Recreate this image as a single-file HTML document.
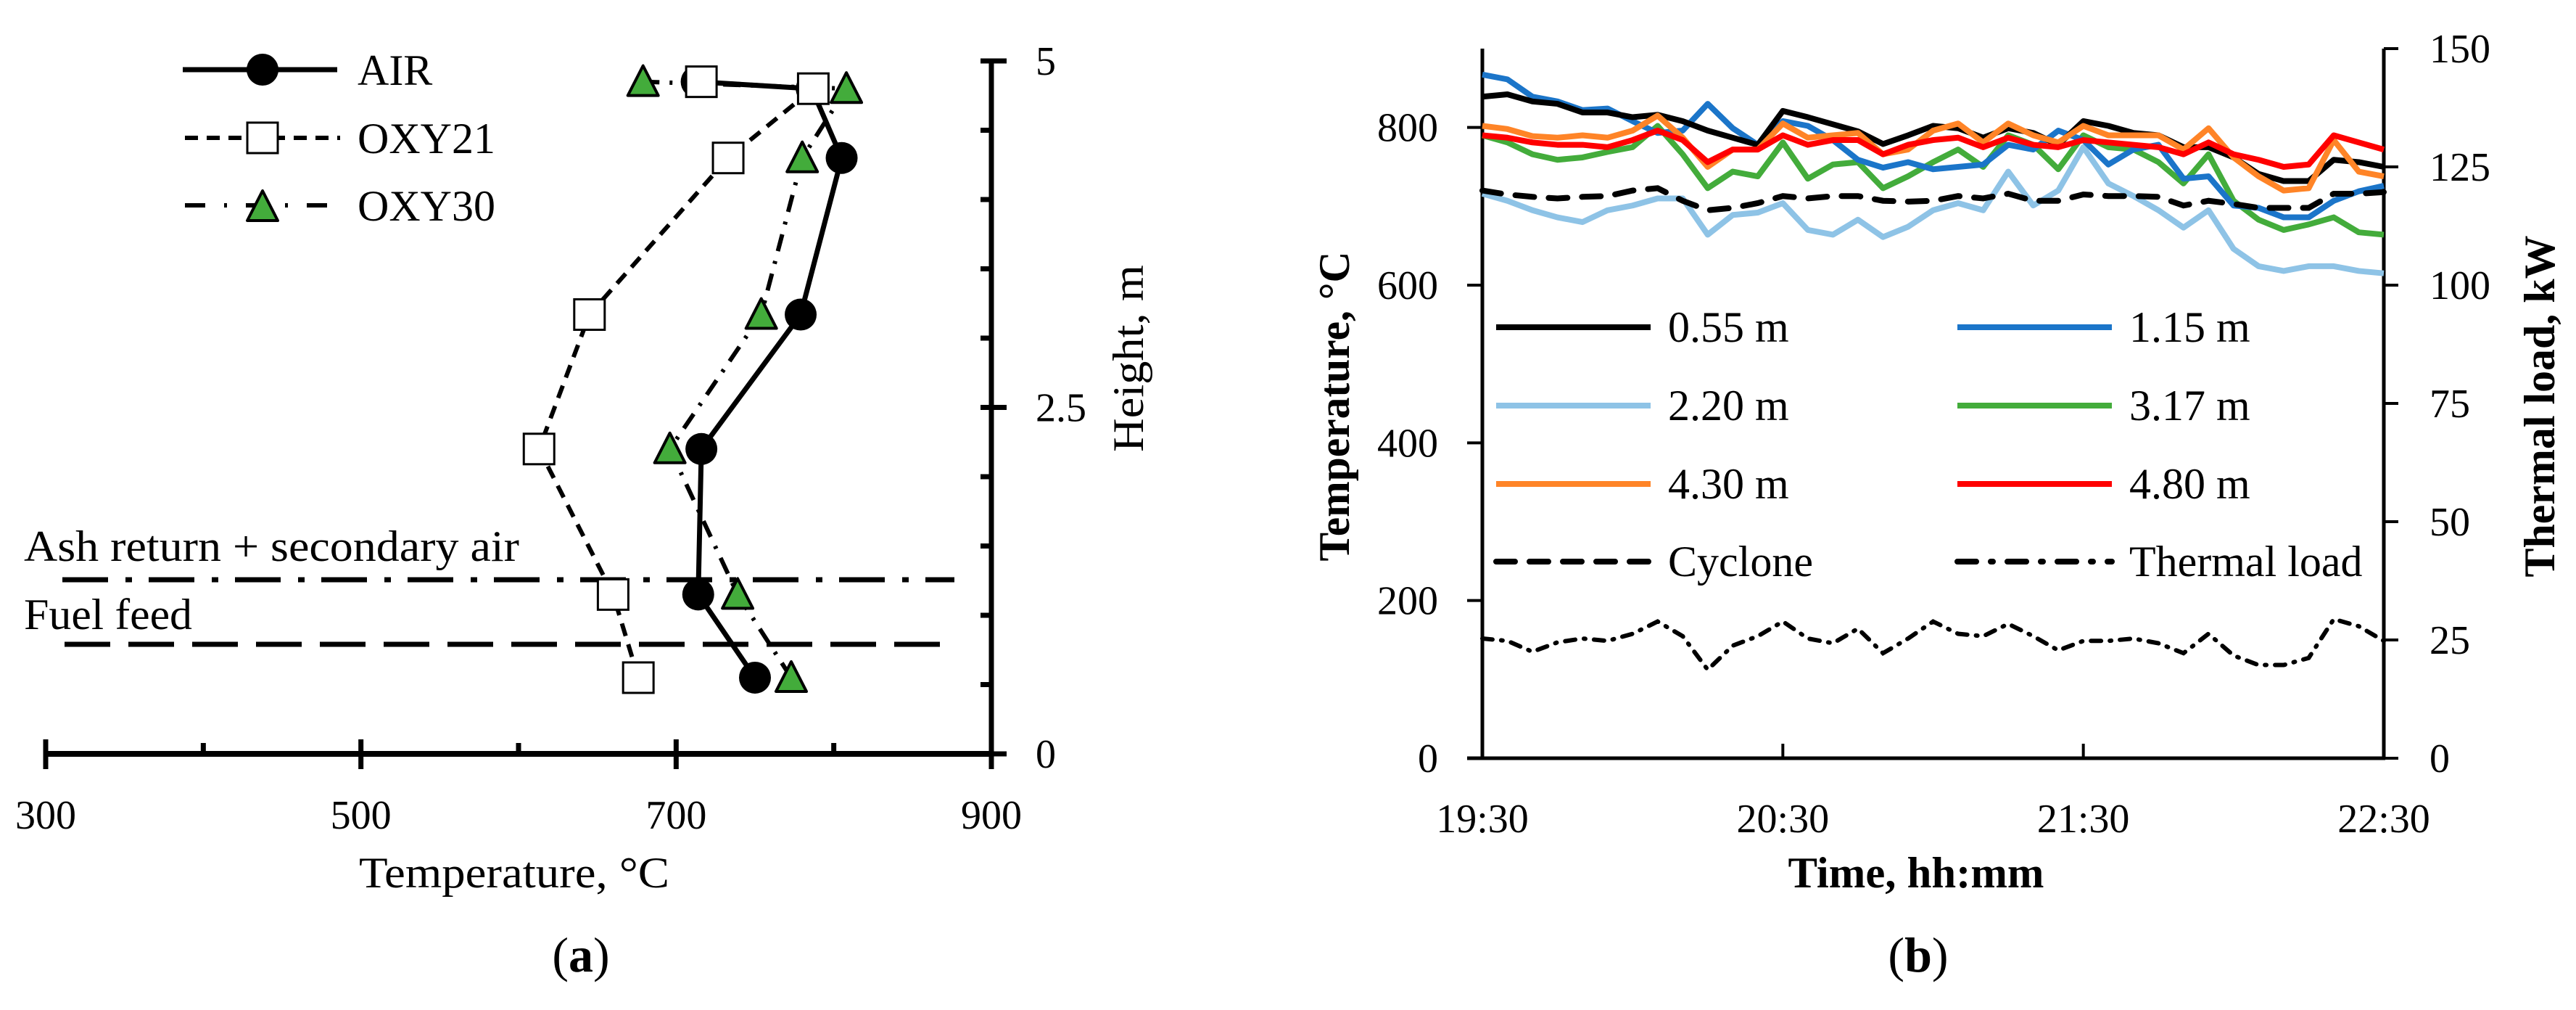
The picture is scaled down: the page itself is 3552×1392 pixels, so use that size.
<!DOCTYPE html>
<html><head><meta charset="utf-8">
<style>
html,body{margin:0;padding:0;background:#fff;}
svg{display:block;}
text{font-family:"Liberation Serif",serif;fill:#000;}
</style></head>
<body>
<svg id="fig" xmlns="http://www.w3.org/2000/svg" width="3552" height="1392" viewBox="0 0 3552 1392">
<rect width="3552" height="1392" fill="#fff"/>
<g id="pa"></g>
<g id="pb"></g>
</svg>
<script>
// ---------- Panel (a) data ----------
const aHeights = [0.55, 1.15, 2.20, 3.17, 4.30, 4.80, 4.85];
const airTemps = [750, 714, 716, 779, 805, 786, 713];
const oxy21Temps = [676, 660, 613, 645, 733, 787, 716];
const oxy30Temps = [773, 739, 696, 754, 780, 808, 679];
const aXTicks = [300, 500, 700, 900];
const aYTicks = ["0", "2.5", "5"];

// ---------- Panel (b) data ----------
const bMinutes = [0,5,10,15,20,25,30,35,40,45,50,55,60,65,70,75,80,85,90,95,100,105,110,115,120,125,130,135,140,145,150,155,160,165,170,175,180];
const t055 = [839,842,833,830,819,819,813,816,808,796,787,778,821,813,804,795,779,790,802,799,787,799,793,778,808,802,793,790,775,775,762,741,732,732,759,756,750];
const t115 = [867,861,839,833,822,824,808,793,796,830,799,778,808,802,784,759,749,756,747,750,753,778,772,796,784,753,772,778,735,738,701,698,686,686,707,719,726];
const t220 = [716,707,695,686,680,695,701,710,710,664,689,692,704,670,664,683,661,674,695,704,695,744,701,720,775,729,713,695,673,695,646,624,618,624,624,618,615];
const t317 = [790,781,766,759,762,769,775,802,766,723,744,738,781,735,753,756,723,738,756,772,750,790,778,747,790,775,772,756,729,766,707,683,670,677,686,667,664];
const t430 = [802,798,789,787,790,787,796,815,787,750,772,772,805,787,790,793,766,772,796,805,781,805,790,781,802,790,790,790,772,799,762,738,720,723,784,744,738];
const t480 = [790,787,781,778,778,775,784,796,784,756,772,772,790,778,784,784,766,778,784,787,775,787,778,775,784,781,778,775,766,781,766,759,750,753,790,781,772];
const tCyclone = [720,715,712,710,712,713,720,723,707,695,698,704,713,710,713,713,707,706,707,713,710,716,707,707,715,713,713,712,701,707,703,698,698,698,716,716,718];
const thermalLoad = [25.3,24.8,22.5,24.5,25.3,24.8,26.3,28.9,25.8,18.7,23.8,25.8,28.9,25.3,24.3,27.4,22.2,25.3,28.9,26.3,25.8,28.4,25.8,22.8,24.8,24.8,25.3,24.3,22.2,26.3,21.7,19.7,19.7,21.2,29.4,27.9,24.8];
const bTimeLabels = ["19:30","20:30","21:30","22:30"];
const bLeftTicks = [0,200,400,600,800];
const bRightTicks = [0,25,50,75,100,125,150];

const NS = "http://www.w3.org/2000/svg";
function mk(parent, tag, attrs, txt){
  const e = document.createElementNS(NS, tag);
  for (const k in attrs) e.setAttribute(k, attrs[k]);
  if (txt !== undefined) e.textContent = txt;
  parent.appendChild(e);
  return e;
}

// ===== Panel (a) =====
const pa = document.getElementById('pa');
const ax = t => 63 + (t - 300) * (1367 - 63) / 600;
const ay = h => 1039 - h * 191;

let el;
el = mk(pa,'line',{x1:86,y1:799,x2:1316,y2:799,stroke:'#000','stroke-width':7,'stroke-dasharray':'63 24 9 23'});


el = mk(pa,'line',{x1:89,y1:888,x2:1296,y2:888,stroke:'#000','stroke-width':7,'stroke-dasharray':'63 25'});


el = mk(pa,'text',{x:33,y:773,'font-size':60,textLength:683,lengthAdjust:'spacingAndGlyphs'},'Ash return + secondary air');


el = mk(pa,'text',{x:33,y:867,'font-size':60,textLength:232,lengthAdjust:'spacingAndGlyphs'},'Fuel feed');



el = mk(pa,'line',{x1:63,y1:1039,x2:1367,y2:1039,stroke:'#000','stroke-width':8});


el = mk(pa,'line',{x1:1367,y1:84,x2:1367,y2:1043,stroke:'#000','stroke-width':7});


for (let t = 300; t <= 900; t += 100) {
  const major = (t % 200 === 100);
  el = mk(pa,'line',{x1:ax(t),y1:major?1019:1024,x2:ax(t),y2:major?1060:1039,stroke:'#000','stroke-width':7});
  
  
}
aXTicks.forEach(t => {
  el = mk(pa,'text',{x:ax(t),y:1142,'font-size':56,'text-anchor':'middle'},String(t));
  
  
});
for (let i = 0; i <= 10; i++) {
  const h = i * 0.5, major = (i % 5 === 0);
  el = mk(pa,'line',{x1:1352,y1:ay(h),x2:major?1388:1367,y2:ay(h),stroke:'#000','stroke-width':7});
  
  
}
aYTicks.forEach(l => {
  el = mk(pa,'text',{x:1428,y:ay(parseFloat(l))+19,'font-size':56},l);
  
  
});
el = mk(pa,'text',{x:709,y:1223,'font-size':60,'text-anchor':'middle',textLength:428,lengthAdjust:'spacingAndGlyphs'},'Temperature, °C');


el = mk(pa,'text',{x:0,y:0,'font-size':60,'text-anchor':'middle',transform:'translate(1576,494) rotate(-90)',textLength:258,lengthAdjust:'spacingAndGlyphs'},'Height, m');


el = mk(pa,'text',{x:801,y:1339,'font-size':68,'text-anchor':'middle'});
el.innerHTML = '(<tspan font-weight="bold">a</tspan>)';



function ptsA(temps){ return temps.map((t,i)=>ax(t)+','+ay(aHeights[i])).join(' '); }
el = mk(pa,'polyline',{points:ptsA(oxy21Temps),fill:'none',stroke:'#000','stroke-width':6,'stroke-dasharray':'18 12'});


el = mk(pa,'polyline',{points:ptsA(oxy30Temps),fill:'none',stroke:'#000','stroke-width':6,'stroke-dasharray':'24 14 4 14'});


el = mk(pa,'polyline',{points:ptsA(airTemps),fill:'none',stroke:'#000','stroke-width':7});



function circ(g,x,y){ return mk(g,'circle',{cx:x,cy:y,r:22,fill:'#000'}); }
function sq(g,x,y){ return mk(g,'rect',{x:x-21,y:y-21,width:42,height:42,fill:'#fff',stroke:'#000','stroke-width':3}); }
function tri(g,x,y){ return mk(g,'polygon',{points:`${x},${y-22} ${x-21},${y+19} ${x+21},${y+19}`,fill:'#43ac3b',stroke:'#000','stroke-width':4,'stroke-linejoin':'round'}); }
airTemps.forEach((t,i)=>{ el = circ(pa,ax(t),ay(aHeights[i]));
  
   });
oxy21Temps.forEach((t,i)=>{ el = sq(pa,ax(t),ay(aHeights[i]));
  
   });
oxy30Temps.forEach((t,i)=>{ el = tri(pa,ax(t),ay(aHeights[i]));
  
   });

el = mk(pa,'line',{x1:252,y1:96,x2:465,y2:96,stroke:'#000','stroke-width':7});


el = circ(pa,362,96);


el = mk(pa,'line',{x1:255,y1:190,x2:469,y2:190,stroke:'#000','stroke-width':6,'stroke-dasharray':'18 12'});


el = sq(pa,362,190);


el = mk(pa,'line',{x1:255,y1:283,x2:469,y2:283,stroke:'#000','stroke-width':6,'stroke-dasharray':'28 26 4 26'});


el = tri(pa,362,285);


[['AIR',96],['OXY21',190],['OXY30',283]].forEach(([s,y])=>{
  el = mk(pa,'text',{x:493,y:y+21,'font-size':60},s);
  
  
});

// ===== Panel (b) =====
const pb = document.getElementById('pb');
const bx = m => 2044 + m * (3287 - 2044) / 180;
const byL = v => 1045 - v * (978 / 900);
const byR = v => 1045 - v * (978 / 150);

el = mk(pb,'line',{x1:2023,y1:1045,x2:3289,y2:1045,stroke:'#000','stroke-width':5});


el = mk(pb,'line',{x1:2044,y1:67,x2:2044,y2:1047,stroke:'#000','stroke-width':5});


el = mk(pb,'line',{x1:3287,y1:67,x2:3287,y2:1047,stroke:'#000','stroke-width':5});


bLeftTicks.forEach(v=>{
  el = mk(pb,'line',{x1:2023,y1:byL(v),x2:2044,y2:byL(v),stroke:'#000','stroke-width':4});
  
  
  el = mk(pb,'text',{x:1983,y:byL(v)+19,'font-size':56,'text-anchor':'end'},String(v));
  
  
});
bRightTicks.forEach(v=>{
  el = mk(pb,'line',{x1:3287,y1:byR(v),x2:3307,y2:byR(v),stroke:'#000','stroke-width':4});
  
  
  el = mk(pb,'text',{x:3350,y:byR(v)+19,'font-size':56},String(v));
  
  
});
bTimeLabels.forEach((s,i)=>{
  el = mk(pb,'line',{x1:bx(i*60),y1:1025,x2:bx(i*60),y2:1045,stroke:'#000','stroke-width':4});
  
  
  el = mk(pb,'text',{x:bx(i*60),y:1147,'font-size':56,'text-anchor':'middle'},s);
  
  
});
el = mk(pb,'text',{x:2642,y:1223,'font-size':60,'font-weight':'bold','text-anchor':'middle',textLength:353,lengthAdjust:'spacingAndGlyphs'},'Time, hh:mm');


el = mk(pb,'text',{x:0,y:0,'font-size':60,'font-weight':'bold','text-anchor':'middle',transform:'translate(1860,560) rotate(-90)',textLength:427,lengthAdjust:'spacingAndGlyphs'},'Temperature, °C');


el = mk(pb,'text',{x:0,y:0,'font-size':60,'font-weight':'bold','text-anchor':'middle',transform:'translate(3522,560) rotate(-90)',textLength:471,lengthAdjust:'spacingAndGlyphs'},'Thermal load, kW');


el = mk(pb,'text',{x:2645,y:1339,'font-size':68,'text-anchor':'middle'});
el.innerHTML = '(<tspan font-weight="bold">b</tspan>)';



function ptsB(vals, f){ return vals.map((v,i)=>bx(bMinutes[i])+','+f(v)).join(' '); }
const series = [
  [t220,'#8ec3e6','series-2-20m'],
  [t317,'#43ac3b','series-3-17m'],
  [t115,'#1b75c9','series-1-15m'],
  [t055,'#000000','series-0-55m'],
  [t430,'#ff8427','series-4-30m'],
  [t480,'#ff0000','series-4-80m']
];
series.forEach(([vals,col,name])=>{
  el = mk(pb,'polyline',{points:ptsB(vals,byL),fill:'none',stroke:col,'stroke-width':8,'stroke-linejoin':'round'});
  
  
});
el = mk(pb,'polyline',{points:ptsB(tCyclone,byL),fill:'none',stroke:'#000','stroke-width':8,'stroke-dasharray':'26 20','stroke-linecap':'round'});


el = mk(pb,'polyline',{points:ptsB(thermalLoad,byR),fill:'none',stroke:'#000','stroke-width':6,'stroke-dasharray':'14 12 2 12','stroke-linecap':'round'});



const legB = [
  ['0.55 m','#000',null,2063,451],['1.15 m','#1b75c9',null,2699,451],
  ['2.20 m','#8ec3e6',null,2063,559],['3.17 m','#43ac3b',null,2699,559],
  ['4.30 m','#ff8427',null,2063,667],['4.80 m','#ff0000',null,2699,667],
  ['Cyclone','#000','26 20',2063,774],['Thermal load','#000','26 20 3 20',2699,774]
];
legB.forEach(([s,col,dash,x,y])=>{
  const a = {x1:x,y1:y,x2:x+213,y2:y,stroke:col,'stroke-width':8};
  if (dash) { a['stroke-dasharray']=dash; a['stroke-linecap']='round'; }
  el = mk(pb,'line',a);
  
  
  el = mk(pb,'text',{x:x+237,y:y+20,'font-size':60},s);
  
  
});
</script>
</body></html>
